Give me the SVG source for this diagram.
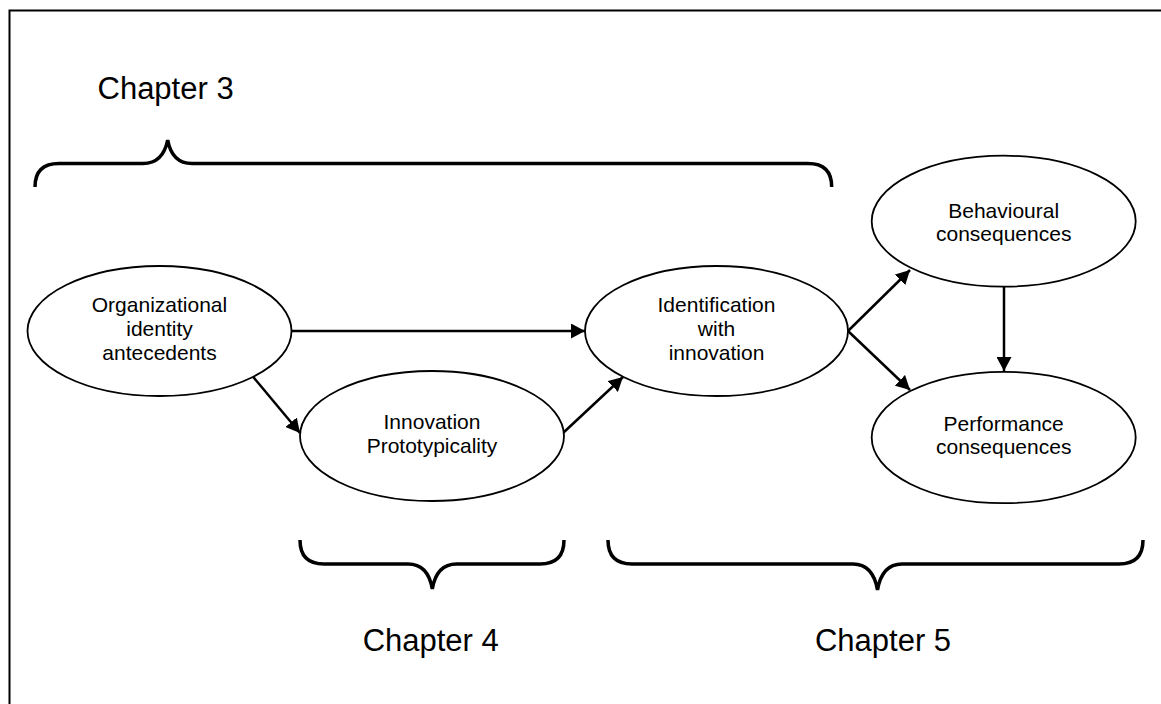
<svg xmlns="http://www.w3.org/2000/svg" width="1161" height="704" viewBox="0 0 1161 704">
<style>
.node ellipse{fill:#fff;stroke:#000;stroke-width:1.8}
.node text{font-family:"Liberation Sans",Arial,sans-serif;font-size:21px;fill:#000;text-anchor:middle}
.ch{font-family:"Liberation Sans",Arial,sans-serif;font-size:31px;fill:#000}
.brace{fill:none;stroke:#000;stroke-width:3.5;stroke-linecap:butt}
#connectors line{stroke:#000;stroke-width:2.5;marker-end:url(#ah)}
</style>
<defs>
<marker id="ah" markerUnits="userSpaceOnUse" markerWidth="15" markerHeight="15" refX="14" refY="7.5" orient="auto">
<path d="M0,0 L14,7.5 L0,15 z" fill="#000"/>
</marker>
</defs>
<rect x="0" y="0" width="1161" height="704" fill="#fff"/>
<rect x="9.5" y="10.5" width="1200" height="800" fill="none" stroke="#000" stroke-width="2"/>

<g id="chapter3">
<text class="ch" x="97.5" y="99">Chapter 3</text>
<path class="brace" d="M35,187 Q35,163.5 59,163.5 L143,163.5 Q163,163.5 167.7,140 Q172,163.5 192,163.5 L808,163.5 Q831.7,163.5 831.7,187"/>
</g>
<g id="chapter4">
<path class="brace" d="M300,540 Q300,564 324,564 L408,564 Q428,564 432.3,589 Q436.6,564 456.6,564 L540,564 Q564,564 564,540"/>
<text class="ch" x="430.7" y="651" text-anchor="middle">Chapter 4</text>
</g>
<g id="chapter5">
<path class="brace" d="M608,540 Q608,564 632,564 L853,564 Q873,564 877.5,590 Q882,564 902,564 L1119,564 Q1143,564 1143,540"/>
<text class="ch" x="883" y="651" text-anchor="middle">Chapter 5</text>
</g>

<g id="connectors">
<line x1="291.7" y1="331" x2="585" y2="331"/>
<line x1="253" y1="376.7" x2="300" y2="433"/>
<line x1="563" y1="433" x2="623" y2="377"/>
<line x1="848" y1="331" x2="910" y2="270"/>
<line x1="848" y1="331" x2="910" y2="390"/>
<line x1="1004" y1="287" x2="1004" y2="371"/>
</g>

<g id="n-org" class="node">
<ellipse cx="159.5" cy="331" rx="132" ry="65"/>
<text x="159.5" y="312">Organizational</text>
<text x="159.5" y="336">identity</text>
<text x="159.5" y="360">antecedents</text>
</g>
<g id="n-proto" class="node">
<ellipse cx="432" cy="436" rx="132" ry="65"/>
<text x="432" y="429">Innovation</text>
<text x="432" y="453">Prototypicality</text>
</g>
<g id="n-ident" class="node">
<ellipse cx="716.5" cy="331" rx="131.5" ry="65"/>
<text x="716.5" y="312">Identification</text>
<text x="716.5" y="336">with</text>
<text x="716.5" y="360">innovation</text>
</g>
<g id="n-behav" class="node">
<ellipse cx="1003.7" cy="221.2" rx="132" ry="65.5"/>
<text x="1003.7" y="218">Behavioural</text>
<text x="1003.7" y="241">consequences</text>
</g>
<g id="n-perf" class="node">
<ellipse cx="1003.7" cy="437.5" rx="132" ry="65.7"/>
<text x="1003.7" y="431">Performance</text>
<text x="1003.7" y="454">consequences</text>
</g>
</svg>
